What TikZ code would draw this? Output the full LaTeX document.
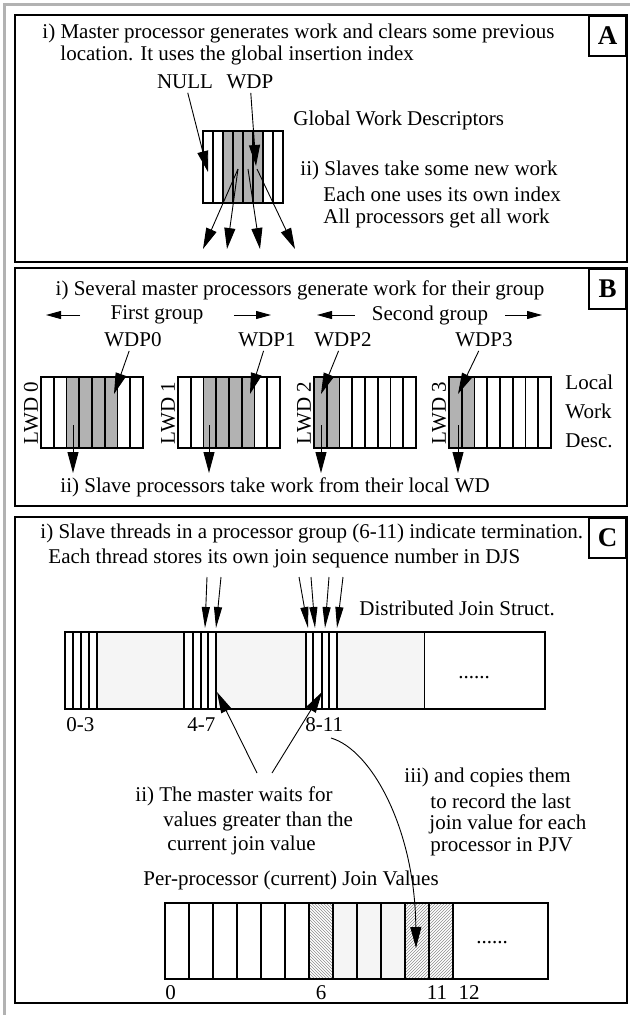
\documentclass[tikz,border=0pt]{standalone}
\usepackage{fontspec}
\setmainfont{Liberation Serif}
\usetikzlibrary{arrows.meta,patterns}
\tikzset{
  panel/.style={draw, line width=2.4pt},
  tag/.style={draw, line width=2pt, minimum width=37pt, minimum height=40pt, anchor=north east,
    font=\bfseries\fontsize{27}{27}\selectfont},
  txt/.style={anchor=west, inner sep=0pt},
  cellbox/.style={draw, line width=1.8pt},
  small/.style={>={Triangle[length=15pt,width=8pt]}},
}

\begin{document}
\begin{tikzpicture}[x=1pt, y=-1pt, >={Triangle[length=21pt,width=11pt]},
  every path/.append style={line width=0.9pt},
  font=\fontsize{21}{24}\selectfont]
  \useasboundingbox (0,0) rectangle (630,1015);
  \draw[black!30, line width=3pt] (4,1015) -- (4,4) -- (630,4);

  % A
  \draw[panel] (15,15) rectangle (627,262);
  \node[tag] (A) at (627,15) {A};
  \node[txt] (a1) at (42,33) {i) Master processor generates work and clears some previous};
  \node[txt] (a2) at (60,55) {location. It uses the global insertion index};
  \node (null) at (185,82) {NULL};
  \node (wdp)  at (250,82) {WDP};
  \node[txt] (gwd) at (293,120) {Global Work Descriptors};
  \node[txt] (a3) at (300,170) {ii) Slaves take some new work};
  \node[txt] (a4) at (323,194) {Each one uses its own index};
  \node[txt] (a5) at (323,218) {All processors get all work};
  \fill[black!30] (223,131) rectangle (263,203);
  \foreach \i in {0,...,7} \draw[cellbox] (203+10*\i,131) rectangle ++(10,72);
  \coordinate (nulltip) at (208,172);
  \coordinate (wdptip)  at (256,166);
  \draw[->] (null) -- (nulltip);
  \draw[->] (wdp) -- (wdptip);
  \foreach \s/\t [count=\k] in {238/203, 238/227, 248/260, 257/295} {
    \coordinate (out\k) at (\s,169);
    \coordinate (take\k) at (\t,249);
    \draw[->] (out\k) -- (take\k);
  }

  % B
  \draw[panel] (15,268) rectangle (627,506);
  \node[tag] (B) at (627,268) {B};
  \node (b1) at (300,290) {i) Several master processors generate work for their group};
  \node[inner xsep=30pt] (g1) at (157,315) {First group};
  \node[inner xsep=17pt] (g2) at (430,315) {Second group};
  \coordinate (g1l) at (46,315);
  \coordinate (g1r) at (271,315);
  \coordinate (g2l) at (317,315);
  \coordinate (g2r) at (542,315);
  \draw[->, small] (g1.west) -- (g1l);
  \draw[->, small] (g1.east) -- (g1r);
  \draw[->, small] (g2.west) -- (g2l);
  \draw[->, small] (g2.east) -- (g2r);
  \foreach \x/\a/\b/\p/\q/\d [count=\k from 0] in
      {41/25.5/76.5/133/114/32, 178/25.5/76.5/267/250/31,
       314/0/25.5/343/321/7, 449/0/25.5/484/458/9} {
    \fill[black!30] (\x+\a,377) rectangle (\x+\b,448);
    \foreach \i in {0,...,7} \draw[cellbox] (\x+12.75*\i,377) rectangle ++(12.75,71);
    \node[rotate=90] (lwd\k) at (\x-10,413) {LWD \k};
    \node (wdp\k) at (\p,340) {WDP\k};
    \coordinate (wtip\k) at (\q,394);
    \draw[->] (wdp\k) -- (wtip\k);
    \coordinate (pick\k) at (\x+\d,425);
    \coordinate (get\k) at (\x+\d,473);
    \draw[->] (pick\k) -- (get\k);
  }
  \node[txt, align=left, font=\fontsize{21}{29}\selectfont] (lwd) at (565,411) {Local\\Work\\Desc.};
  \node[txt] (b2) at (60,487) {ii) Slave processors take work from their local WD};

  % C
  \draw[panel] (15,517) rectangle (627,1003);
  \node[tag] (C) at (627,517) {C};
  \node[txt] (c1) at (40,533) {i) Slave threads in a processor group (6-11) indicate termination.};
  \node[txt] (c2) at (48,558) {Each thread stores its own join sequence number in DJS};
  \foreach \s/\t [count=\k] in {207/205, 221/216, 299/308, 311/315, 329/325, 343/337} {
    \coordinate (th\k) at (\s,577);
    \coordinate (st\k) at (\t,628);
    \draw[->, >={Triangle[length=21pt,width=8pt]}] (th\k) -- (st\k);
  }
  \node[txt] (djs) at (359,608) {Distributed Join Struct.};
  \fill[black!4] (97,632) rectangle (183,709);
  \fill[black!4] (216,632) rectangle (306,709);
  \fill[black!4] (337,632) rectangle (424.5,709);
  \draw[cellbox] (65,632) rectangle (545,709);
  \foreach \x in {73,81,89,97,184,193,201,208,216,306,313,322,329,337,424.5}
    \draw[cellbox] (\x,632) -- (\x,709);
  \node (dots1) at (474,678) {......};
  \node[txt] (r0) at (66,725) {0-3};
  \node[txt] (r4) at (187,725) {4-7};
  \node[txt] (r8) at (305,725) {8-11};
  \coordinate (m1) at (257,773);
  \coordinate (m2) at (272,773);
  \coordinate (w1) at (217,692);
  \coordinate (w2) at (322,692);
  \draw[->] (m1) -- (w1);
  \draw[->] (m2) -- (w2);
  \node[txt] (mw1) at (135,796) {ii) The master waits for};
  \node[txt] (mw2) at (163,821) {values greater than the};
  \node[txt] (mw3) at (167,845) {current join value};
  \node[txt] (cp1) at (404,777) {iii) and copies them};
  \node[txt] (cp2) at (430,801) {to record the last};
  \node[txt] (cp3) at (429,824) {join value for each};
  \node[txt] (cp4) at (430,847) {processor in PJV};
  \node[txt] (pjv) at (143,880) {Per-processor (current) Join Values};
  \fill[pattern=north west lines, pattern color=black!45] (309,903) rectangle (333,979);
  \fill[black!4] (333,903) rectangle (405,979);
  \fill[pattern=north east lines, pattern color=black!45] (405,903) rectangle (453,979);
  \foreach \i in {0,...,11} \draw[cellbox] (165+24*\i,903) rectangle ++(24,76);
  \draw[cellbox] (165,903) rectangle (548,979);
  \node (dots2) at (492,943) {......};
  \node[txt] (p0) at (165,993) {0};
  \node (p6) at (321,993) {6};
  \node (p11) at (437,993) {11};
  \node (p12) at (469,993) {12};
  \coordinate (cpy) at (331,738);
  \coordinate (cpytip) at (416,948);
  \draw[->] (cpy) .. controls (372,750) and (415,830) .. (cpytip);
\end{tikzpicture}
\end{document}
